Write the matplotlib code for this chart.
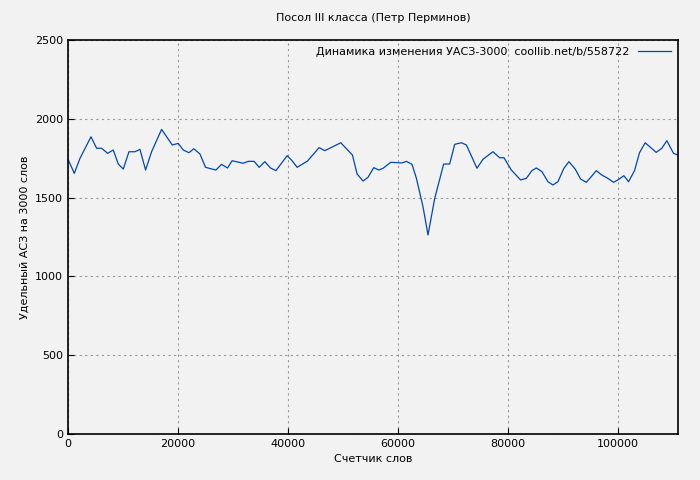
import matplotlib
matplotlib.use("Agg")
import matplotlib.pyplot as plt

words = [0,1150,2180,4180,5210,6120,7210,8240,9150,10060,11090,12180,13090,14120,15210,17030,18970,20060,20970,22000,22910,24000,25030,26910,27940,29030,29870,31880,32790,33870,34780,35820,36850,37820,39880,40780,41690,43580,45690,46730,49640,51760,52600,53690,54600,55640,56550,57330,58730,60780,61580,62600,63400,64600,65510,66730,68360,69450,70360,71580,72490,74420,75510,77330,78550,79330,80670,82360,83400,84420,85220,86240,87330,88240,89150,90240,91150,92310,93270,94310,95220,96130,97150,98240,99270,100240,101150,102000,103090,104000,105030,107030,108060,108970,110180,110970]
vals = [1743,1654,1749,1886,1813,1813,1781,1802,1713,1681,1791,1791,1806,1675,1791,1933,1834,1844,1802,1785,1810,1777,1692,1675,1711,1688,1734,1718,1730,1730,1692,1728,1688,1671,1766,1734,1692,1732,1817,1798,1848,1770,1650,1605,1629,1690,1675,1686,1724,1720,1730,1711,1622,1442,1263,1495,1713,1713,1838,1848,1834,1686,1743,1791,1753,1753,1675,1612,1622,1671,1688,1665,1601,1580,1601,1686,1728,1680,1618,1597,1633,1671,1643,1622,1597,1616,1639,1601,1671,1785,1848,1787,1813,1861,1781,1770]

bg = "#f2f2f2"
plt.rcParams['font.family'] = ['DejaVu Sans']
fig = plt.figure(figsize=(7, 4.8), dpi=100, facecolor=bg)
ax = fig.add_axes([68/700, 1-434/480, (678-68)/700, (434-40)/480])
ax.set_facecolor(bg)
ax.plot(words, vals, color="#0047b3", lw=0.9, label="Динамика изменения УАСЗ-3000  coollib.net/b/558722")
ax.set_xlim(0, 111000)
ax.set_ylim(0, 2500)
ax.set_xticks([0,20000,40000,60000,80000,100000])
ax.set_yticks([0,500,1000,1500,2000,2500])
ax.grid(True, linestyle=(0,(2,3)), color="#999999", lw=0.8)
ax.tick_params(labelsize=8, direction="in", length=4)
for s in ax.spines.values():
    s.set_linewidth(1.2)
ax.set_title("Посол III класса (Петр Перминов)", fontsize=8, pad=14)
ax.set_xlabel("Счетчик слов", fontsize=8)
ax.set_ylabel("Удельный АСЗ на 3000 слов", fontsize=8)
leg = ax.legend(loc="upper right", fontsize=8, frameon=False, markerfirst=False, handlelength=3, borderaxespad=0.2)
fig.savefig("out.png", dpi=100, facecolor=bg)
